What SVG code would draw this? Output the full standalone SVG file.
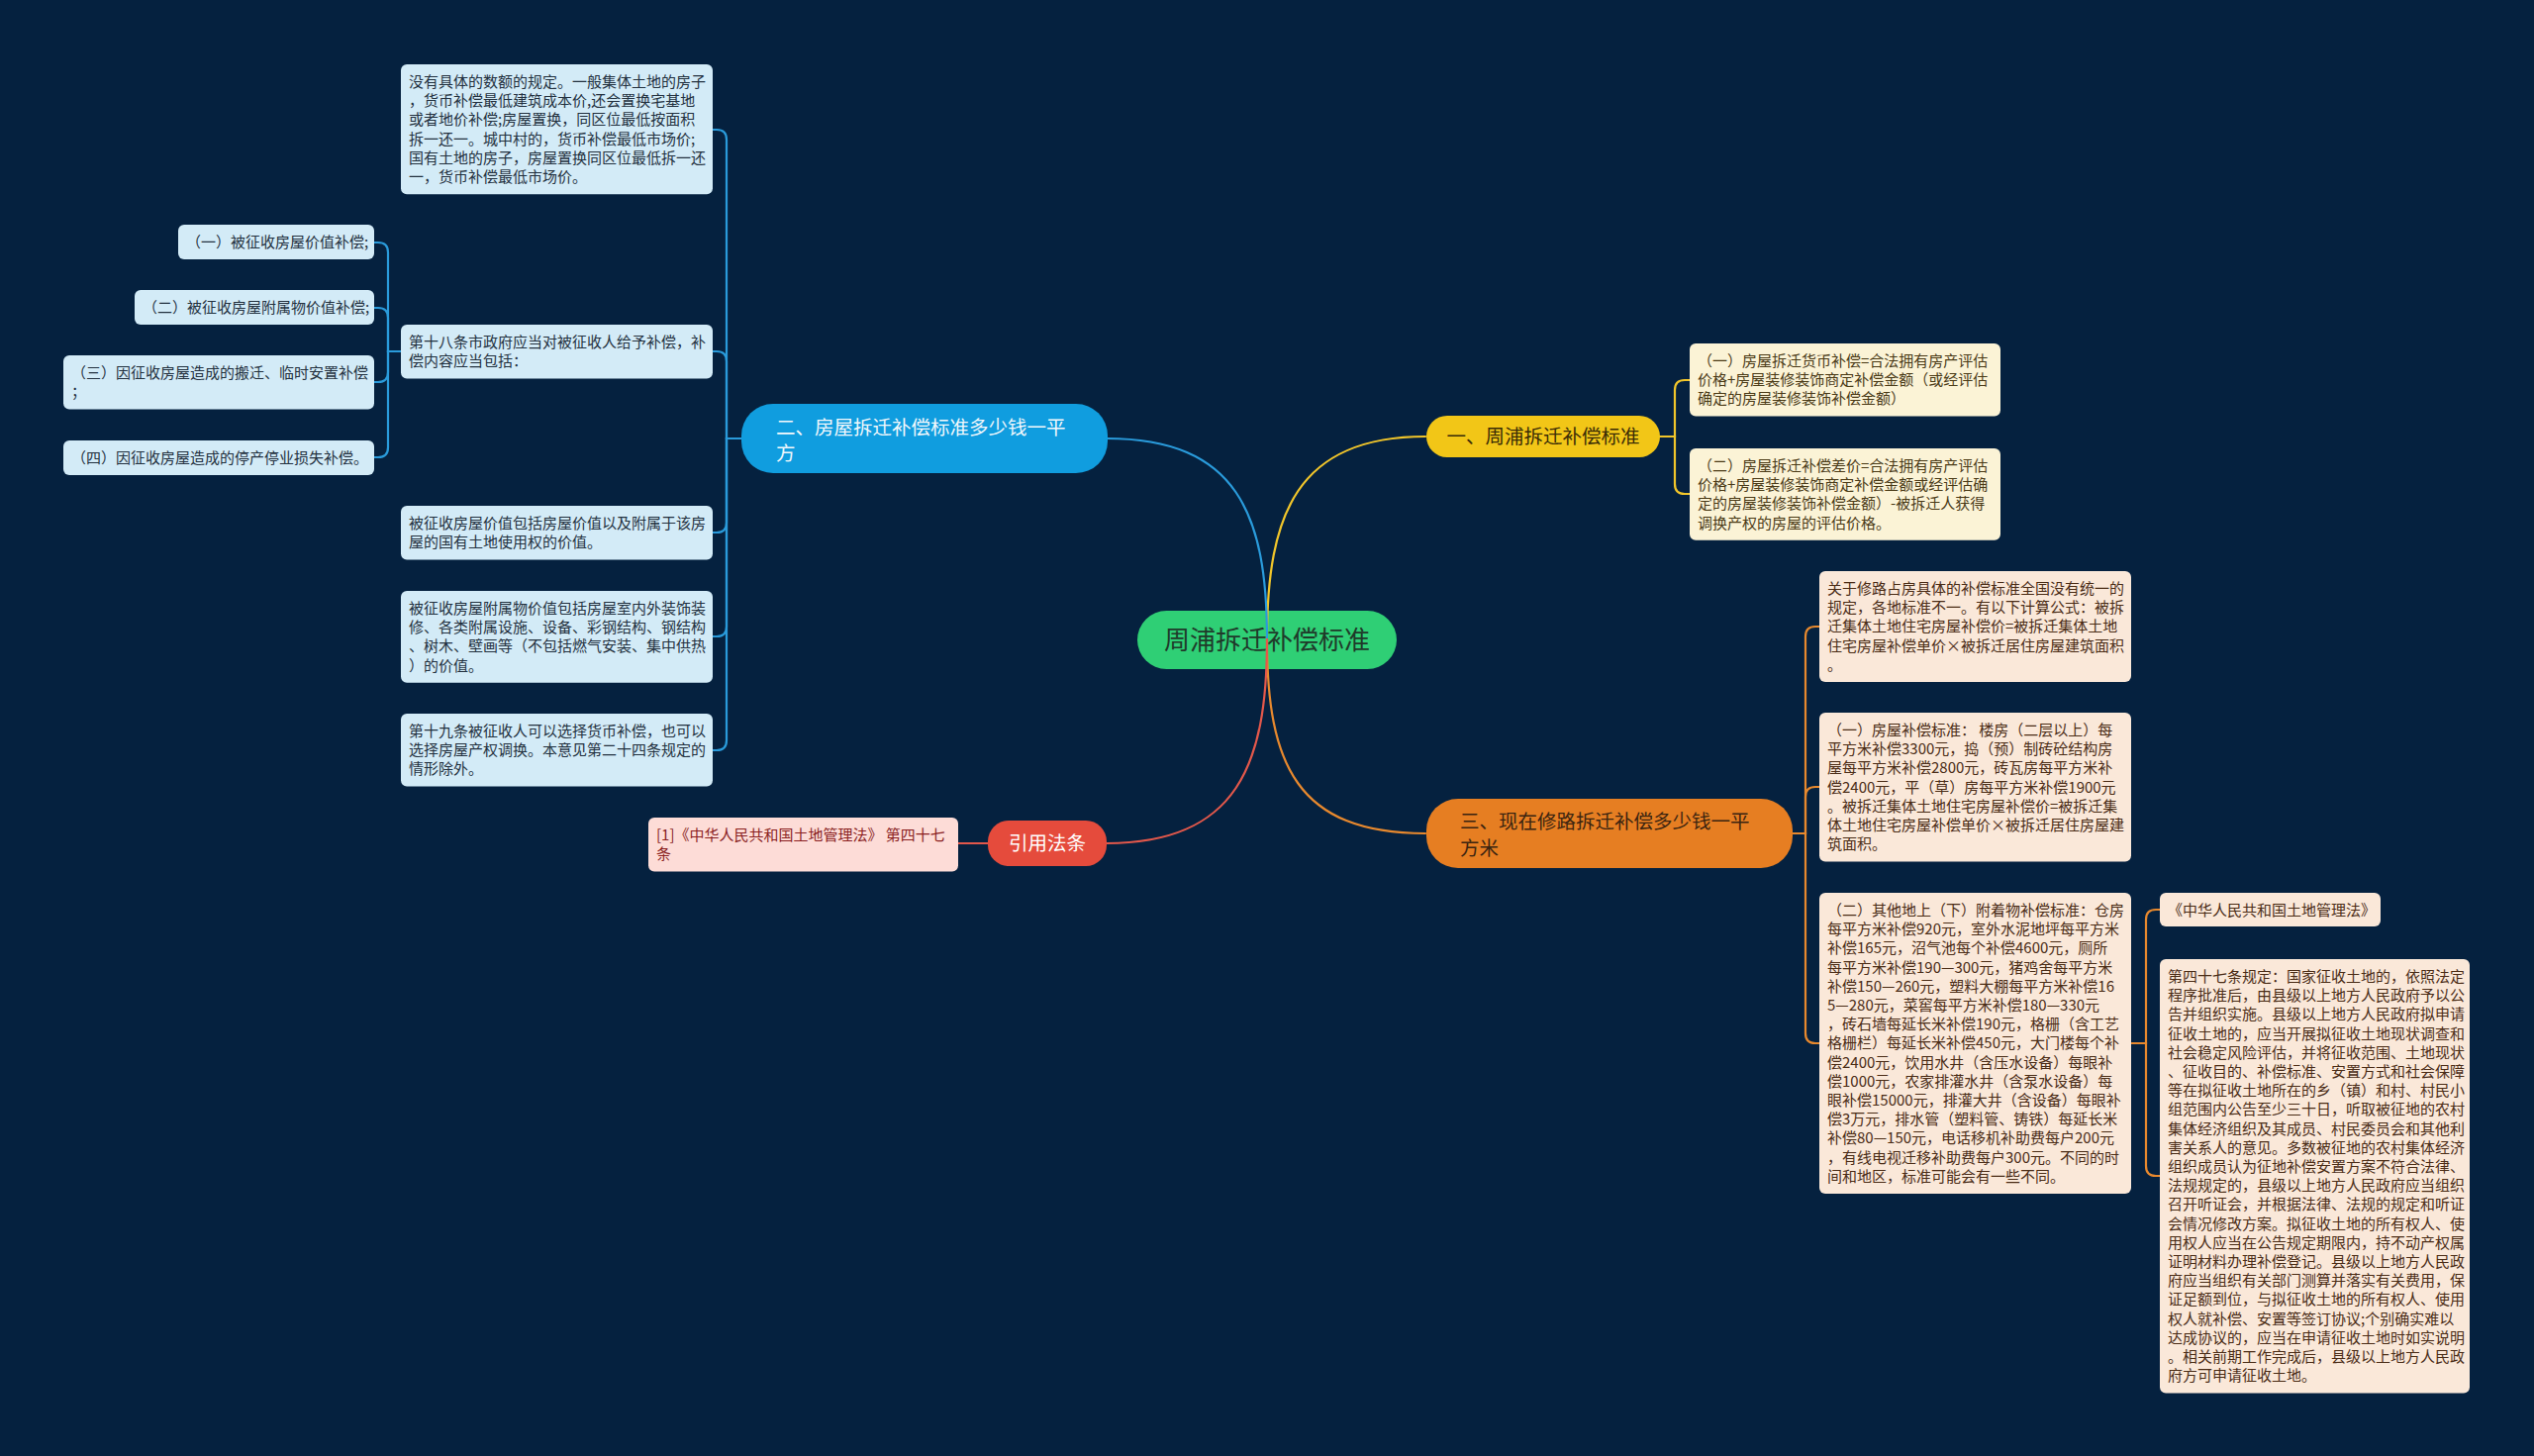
<svg xmlns="http://www.w3.org/2000/svg" width="2560" height="1471" viewBox="0 0 2560 1471">
<style>
text{font-family:"Noto Sans CJK SC","Noto Sans",sans-serif;}
.t{font-size:15px;}
.tb{fill:#23313f;}
.ty{fill:#4a3a16;}
.to{fill:#4a2c16;}
.tr{fill:#8a1f1f;}
.lb{fill:#d3ebf7;}
.ly{fill:#fbf3d6;}
.lo{fill:#fae8d9;}
.lr{fill:#fddcd7;}
.br{font-size:19.5px;}
.c{fill:none;stroke-width:2.2;stroke-linecap:round;}
.cb{stroke:#2a9bdb;}
.cy{stroke:#f2c62a;}
.co{stroke:#e8892e;}
.cr{stroke:#e3584b;}
</style>
<rect width="2560" height="1471" fill="#05213f"/>

<g id="center">
<rect x="1149" y="617" width="262" height="59" rx="29.5" fill="#2fcf75"/>
<text x="1280" y="656" font-size="26" text-anchor="middle" fill="#1f3a2a">周浦拆迁补偿标准</text>
</g>

<g id="connectors">
<path class="c cy" d="M1280 646 C1280 520 1310 441 1440 441"/>
<path class="c cb" d="M1280 646 C1280 520 1250 443 1118 443"/>
<path class="c co" d="M1280 646 C1280 772 1310 842 1440 842"/>
<path class="c cr" d="M1280 646 C1280 772 1250 852 1118 852"/>
<path class="c cy" d="M1677 441 H1692 V394 Q1692 384 1702 384 H1707"/>
<path class="c cy" d="M1677 441 H1692 V489 Q1692 499 1702 499 H1707"/>
<path class="c co" d="M1812 842 H1824 V643 Q1824 633 1834 633 H1838"/>
<path class="c co" d="M1812 842 H1824 V805 Q1824 795 1834 795 H1838"/>
<path class="c co" d="M1812 842 H1824 V1044 Q1824 1054 1834 1054 H1838"/>
<path class="c co" d="M2154 1054 H2168 V929 Q2168 919 2178 919 H2182"/>
<path class="c co" d="M2154 1054 H2168 V1178 Q2168 1188 2178 1188 H2182"/>
<path class="c cb" d="M749 443 H734 V141 Q734 131 724 131 H720"/>
<path class="c cb" d="M749 443 H734 V365 Q734 355 724 355 H720"/>
<path class="c cb" d="M749 443 H734 V528 Q734 538 724 538 H720"/>
<path class="c cb" d="M749 443 H734 V633 Q734 643 724 643 H720"/>
<path class="c cb" d="M749 443 H734 V748 Q734 758 724 758 H720"/>
<path class="c cb" d="M405 355 H392 V255 Q392 245 382 245 H378"/>
<path class="c cb" d="M405 355 H392 V321 Q392 311 382 311 H378"/>
<path class="c cb" d="M405 355 H392 V376 Q392 386 382 386 H378"/>
<path class="c cb" d="M405 355 H392 V452 Q392 462 382 462 H378"/>
<path class="c cr" d="M998 852 H968"/>
</g>

<g id="branch1">
<rect x="1441" y="420" width="236" height="42" rx="21" fill="#f2c617"/>
<text class="br" x="1559" y="448" text-anchor="middle" fill="#3a2c06">一、周浦拆迁补偿标准</text>
</g>
<g id="branch2">
<rect x="749" y="408" width="370" height="70" rx="32" fill="#109ddf"/>
<text class="br" x="784" y="439" fill="#f2f8fc">二、房屋拆迁补偿标准多少钱一平</text>
<text class="br" x="784" y="465" fill="#f2f8fc">方</text>
</g>
<g id="branch3">
<rect x="1441" y="807" width="370" height="70" rx="32" fill="#e67e22"/>
<text class="br" x="1475" y="837" fill="#3b2410">三、现在修路拆迁补偿多少钱一平</text>
<text class="br" x="1475" y="864" fill="#3b2410">方米</text>
</g>
<g id="branch4">
<rect x="998" y="829" width="120" height="46" rx="21" fill="#e54b3c"/>
<text class="br" x="1058" y="859" text-anchor="middle" fill="#ffffff">引用法条</text>
</g>

<g id="y1">
<rect class="ly" x="1707" y="347" width="314" height="73.6" rx="6"/>
<text class="t ty"><tspan x="1715" y="370">（一）房屋拆迁货币补偿=合法拥有房产评估</tspan><tspan x="1715" y="389.2">价格+房屋装修装饰商定补偿金额（或经评估</tspan><tspan x="1715" y="408.4">确定的房屋装修装饰补偿金额）</tspan></text>
</g>
<g id="y2">
<rect class="ly" x="1707" y="453" width="314" height="92.8" rx="6"/>
<text class="t ty"><tspan x="1715" y="476">（二）房屋拆迁补偿差价=合法拥有房产评估</tspan><tspan x="1715" y="495.2">价格+房屋装修装饰商定补偿金额或经评估确</tspan><tspan x="1715" y="514.4">定的房屋装修装饰补偿金额）-被拆迁人获得</tspan><tspan x="1715" y="533.6">调换产权的房屋的评估价格。</tspan></text>
</g>

<g id="o1">
<rect class="lo" x="1838" y="577" width="315" height="112" rx="6"/>
<text class="t to"><tspan x="1846" y="600">关于修路占房具体的补偿标准全国没有统一的</tspan><tspan x="1846" y="619.2">规定，各地标准不一。有以下计算公式：被拆</tspan><tspan x="1846" y="638.4">迁集体土地住宅房屋补偿价=被拆迁集体土地</tspan><tspan x="1846" y="657.6">住宅房屋补偿单价×被拆迁居住房屋建筑面积</tspan><tspan x="1846" y="676.8">。</tspan></text>
</g>
<g id="o2">
<rect class="lo" x="1838" y="720" width="315" height="150.4" rx="6"/>
<text class="t to"><tspan x="1846" y="743">（一）房屋补偿标准： 楼房（二层以上）每</tspan><tspan x="1846" y="762.2">平方米补偿3300元，捣（预）制砖砼结构房</tspan><tspan x="1846" y="781.4">屋每平方米补偿2800元，砖瓦房每平方米补</tspan><tspan x="1846" y="800.6">偿2400元，平（草）房每平方米补偿1900元</tspan><tspan x="1846" y="819.8">。被拆迁集体土地住宅房屋补偿价=被拆迁集</tspan><tspan x="1846" y="839">体土地住宅房屋补偿单价×被拆迁居住房屋建</tspan><tspan x="1846" y="858.2">筑面积。</tspan></text>
</g>
<g id="o3">
<rect class="lo" x="1838" y="902" width="315" height="304" rx="6"/>
<text class="t to"><tspan x="1846" y="925">（二）其他地上（下）附着物补偿标准：仓房</tspan><tspan x="1846" y="944.2">每平方米补偿920元，室外水泥地坪每平方米</tspan><tspan x="1846" y="963.4">补偿165元，沼气池每个补偿4600元，厕所</tspan><tspan x="1846" y="982.6">每平方米补偿190—300元，猪鸡舍每平方米</tspan><tspan x="1846" y="1001.8">补偿150—260元，塑料大棚每平方米补偿16</tspan><tspan x="1846" y="1021">5—280元，菜窖每平方米补偿180—330元</tspan><tspan x="1846" y="1040.2">，砖石墙每延长米补偿190元，格栅（含工艺</tspan><tspan x="1846" y="1059.4">格栅栏）每延长米补偿450元，大门楼每个补</tspan><tspan x="1846" y="1078.6">偿2400元，饮用水井（含压水设备）每眼补</tspan><tspan x="1846" y="1097.8">偿1000元，农家排灌水井（含泵水设备）每</tspan><tspan x="1846" y="1117">眼补偿15000元，排灌大井（含设备）每眼补</tspan><tspan x="1846" y="1136.2">偿3万元，排水管（塑料管、铸铁）每延长米</tspan><tspan x="1846" y="1155.4">补偿80—150元，电话移机补助费每户200元</tspan><tspan x="1846" y="1174.6">，有线电视迁移补助费每户300元。不同的时</tspan><tspan x="1846" y="1193.8">间和地区，标准可能会有一些不同。</tspan></text>
</g>
<g id="o3a">
<rect class="lo" x="2182" y="902" width="223" height="34" rx="6"/>
<text class="t to" x="2190" y="924.5">《中华人民共和国土地管理法》</text>
</g>
<g id="o3b">
<rect class="lo" x="2182" y="969" width="313" height="438.4" rx="6"/>
<text class="t to"><tspan x="2190" y="992">第四十七条规定：国家征收土地的，依照法定</tspan><tspan x="2190" y="1011.2">程序批准后，由县级以上地方人民政府予以公</tspan><tspan x="2190" y="1030.4">告并组织实施。县级以上地方人民政府拟申请</tspan><tspan x="2190" y="1049.6">征收土地的，应当开展拟征收土地现状调查和</tspan><tspan x="2190" y="1068.8">社会稳定风险评估，并将征收范围、土地现状</tspan><tspan x="2190" y="1088">、征收目的、补偿标准、安置方式和社会保障</tspan><tspan x="2190" y="1107.2">等在拟征收土地所在的乡（镇）和村、村民小</tspan><tspan x="2190" y="1126.4">组范围内公告至少三十日，听取被征地的农村</tspan><tspan x="2190" y="1145.6">集体经济组织及其成员、村民委员会和其他利</tspan><tspan x="2190" y="1164.8">害关系人的意见。多数被征地的农村集体经济</tspan><tspan x="2190" y="1184">组织成员认为征地补偿安置方案不符合法律、</tspan><tspan x="2190" y="1203.2">法规规定的，县级以上地方人民政府应当组织</tspan><tspan x="2190" y="1222.4">召开听证会，并根据法律、法规的规定和听证</tspan><tspan x="2190" y="1241.6">会情况修改方案。拟征收土地的所有权人、使</tspan><tspan x="2190" y="1260.8">用权人应当在公告规定期限内，持不动产权属</tspan><tspan x="2190" y="1280">证明材料办理补偿登记。县级以上地方人民政</tspan><tspan x="2190" y="1299.2">府应当组织有关部门测算并落实有关费用，保</tspan><tspan x="2190" y="1318.4">证足额到位，与拟征收土地的所有权人、使用</tspan><tspan x="2190" y="1337.6">权人就补偿、安置等签订协议;个别确实难以</tspan><tspan x="2190" y="1356.8">达成协议的，应当在申请征收土地时如实说明</tspan><tspan x="2190" y="1376">。相关前期工作完成后，县级以上地方人民政</tspan><tspan x="2190" y="1395.2">府方可申请征收土地。</tspan></text>
</g>

<g id="b1">
<rect class="lb" x="405" y="65" width="315" height="131.2" rx="6"/>
<text class="t tb"><tspan x="413" y="88">没有具体的数额的规定。一般集体土地的房子</tspan><tspan x="413" y="107.2">，货币补偿最低建筑成本价,还会置换宅基地</tspan><tspan x="413" y="126.4">或者地价补偿;房屋置换，同区位最低按面积</tspan><tspan x="413" y="145.6">拆一还一。城中村的，货币补偿最低市场价;</tspan><tspan x="413" y="164.8">国有土地的房子，房屋置换同区位最低拆一还</tspan><tspan x="413" y="184">一，货币补偿最低市场价。</tspan></text>
</g>
<g id="b2">
<rect class="lb" x="405" y="328" width="315" height="54.4" rx="6"/>
<text class="t tb"><tspan x="413" y="351">第十八条市政府应当对被征收人给予补偿，补</tspan><tspan x="413" y="370.2">偿内容应当包括：</tspan></text>
</g>
<g id="b2a">
<rect class="lb" x="180" y="227" width="198" height="35" rx="6"/>
<text class="t tb" x="188" y="250">（一）被征收房屋价值补偿;</text>
</g>
<g id="b2b">
<rect class="lb" x="136" y="293" width="242" height="35" rx="6"/>
<text class="t tb" x="144" y="316">（二）被征收房屋附属物价值补偿;</text>
</g>
<g id="b2c">
<rect class="lb" x="64" y="359" width="314" height="54.4" rx="6"/>
<text class="t tb"><tspan x="72" y="382">（三）因征收房屋造成的搬迁、临时安置补偿</tspan><tspan x="72" y="401.2">；</tspan></text>
</g>
<g id="b2d">
<rect class="lb" x="64" y="445" width="314" height="35" rx="6"/>
<text class="t tb" x="72" y="468">（四）因征收房屋造成的停产停业损失补偿。</text>
</g>
<g id="b3">
<rect class="lb" x="405" y="511" width="315" height="54.4" rx="6"/>
<text class="t tb"><tspan x="413" y="534">被征收房屋价值包括房屋价值以及附属于该房</tspan><tspan x="413" y="553.2">屋的国有土地使用权的价值。</tspan></text>
</g>
<g id="b4">
<rect class="lb" x="405" y="597" width="315" height="92.8" rx="6"/>
<text class="t tb"><tspan x="413" y="620">被征收房屋附属物价值包括房屋室内外装饰装</tspan><tspan x="413" y="639.2">修、各类附属设施、设备、彩钢结构、钢结构</tspan><tspan x="413" y="658.4">、树木、壁画等（不包括燃气安装、集中供热</tspan><tspan x="413" y="677.6">）的价值。</tspan></text>
</g>
<g id="b5">
<rect class="lb" x="405" y="721" width="315" height="73.6" rx="6"/>
<text class="t tb"><tspan x="413" y="744">第十九条被征收人可以选择货币补偿，也可以</tspan><tspan x="413" y="763.2">选择房屋产权调换。本意见第二十四条规定的</tspan><tspan x="413" y="782.4">情形除外。</tspan></text>
</g>

<g id="r1">
<rect class="lr" x="655" y="826" width="313" height="54.4" rx="6"/>
<text class="t tr"><tspan x="663" y="849">[1]《中华人民共和国土地管理法》 第四十七</tspan><tspan x="663" y="868.2">条</tspan></text>
</g>
</svg>
